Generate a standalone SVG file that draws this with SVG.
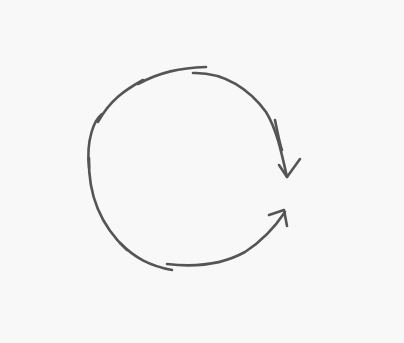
<svg xmlns="http://www.w3.org/2000/svg" width="404" height="343" viewBox="0 0 404 343">
<style>
.s{fill:none;stroke:#555;stroke-width:2.6;stroke-linecap:round;stroke-linejoin:round}
</style>
<rect width="404" height="343" fill="#f8f8f8"/>
<g id="connectors">
<path class="s" d="M89 168 C86 140 94 120 102 114"/>
<path class="s" d="M98 122 C110 100 125 90 143 80"/>
<path class="s" d="M138 84 C160 72 180 68 206 67"/>
<path class="s" d="M193 73 C225 72 250 90 266 112 C276 128 281 150 287 177"/>
<path class="s" d="M275 120 C278 135 280 145 282 150"/>
<path class="s" d="M279 165 L287 177 L300 159"/>
<path class="s" d="M89 158 C88 195 100 225 127 250"/>
<path class="s" d="M120 243 C135 258 150 266 172 270"/>
<path class="s" d="M167 264 C200 268 225 263 245 252 C262 241 275 227 285 212"/>
<path class="s" d="M269 215 L284 210 L287 226"/>
</g>
</svg>
